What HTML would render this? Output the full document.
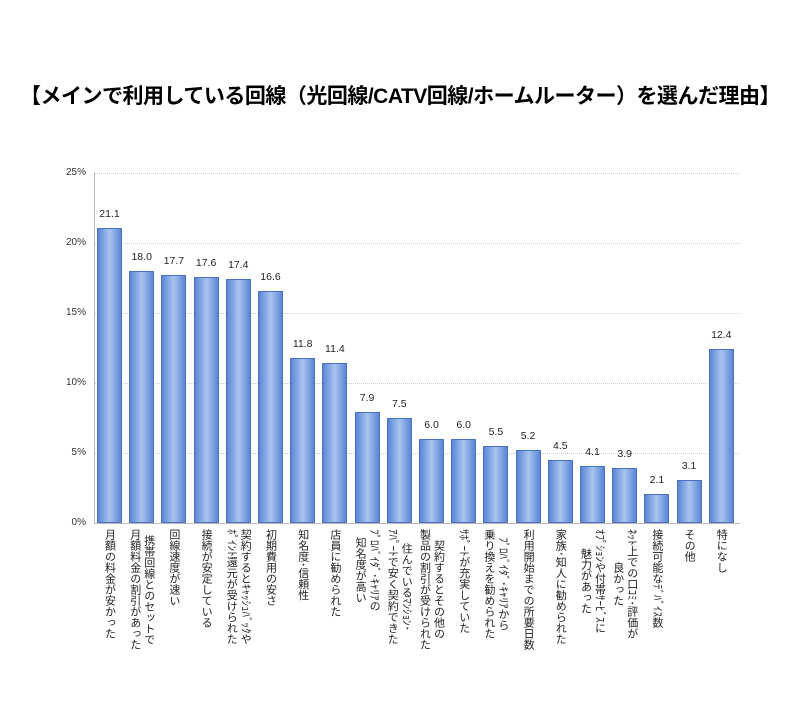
<!DOCTYPE html>
<html><head><meta charset="utf-8"><style>
body{margin:0;width:800px;height:720px;background:#fff;position:relative;overflow:hidden;font-family:"Liberation Sans","Noto Sans CJK JP",sans-serif;}
.t{position:absolute;left:0;width:800px;top:80px;text-align:center;font-size:21px;font-weight:bold;color:#000;letter-spacing:-0.5px}
.yl{position:absolute;left:30px;width:56px;text-align:right;font-size:10px;color:#333}
.g{position:absolute;left:95px;width:645px;border-top:1px dotted #ccc;height:0}
.bar{position:absolute;width:25px;background:linear-gradient(to right,#5b86d6,#a9c4ef 50%,#5b86d6);border:1px solid #4a72c0;box-sizing:border-box}
.v{position:absolute;width:40px;text-align:center;font-size:10.5px;color:#222}
.lb{position:absolute;top:529px;writing-mode:vertical-rl;text-align:center;font-size:11px;line-height:14px;color:#222;white-space:nowrap}
</style></head><body>
<div class="t">【メインで利用している回線（光回線/CATV回線/ホームルーター）を選んだ理由】</div>
<div class="g" style="top:173px"></div><div class="g" style="top:243px"></div><div class="g" style="top:313px"></div><div class="g" style="top:383px"></div><div class="g" style="top:453px"></div>
<div class="yl" style="top:167px">25%</div><div class="yl" style="top:237px">20%</div><div class="yl" style="top:307px">15%</div><div class="yl" style="top:377px">10%</div><div class="yl" style="top:447px">5%</div><div class="yl" style="top:517px">0%</div>
<div style="position:absolute;left:94px;top:173px;width:1px;height:351px;background:#bbb"></div>
<div style="position:absolute;left:94px;top:523px;width:646px;height:1px;background:#bbb"></div>
<div id="c"></div>
<script>
var d=[[21.1,"月額の料金が安かった"],[18.0,"携帯回線とのセットで<br>月額料金の割引があった"],[17.7,"回線速度が速い"],[17.6,"接続が安定している"],[17.4,"契約するとｷｬｯｼｭﾊﾞｯｸや<br>ﾎﾟｲﾝﾄ還元が受けられた"],[16.6,"初期費用の安さ"],[11.8,"知名度･信頼性"],[11.4,"店員に勧められた"],[7.9,"ﾌﾟﾛﾊﾞｲﾀﾞ･ｷｬﾘｱの<br>知名度が高い"],[7.5,"住んでいるﾏﾝｼｮﾝ･<br>ｱﾊﾟｰﾄで安く契約できた"],[6.0,"契約するとその他の<br>製品の割引が受けられた"],[6.0,"ｻﾎﾟｰﾄが充実していた"],[5.5,"ﾌﾟﾛﾊﾞｲﾀﾞ･ｷｬﾘｱから<br>乗り換えを勧められた"],[5.2,"利用開始までの所要日数"],[4.5,"家族･知人に勧められた"],[4.1,"ｵﾌﾟｼｮﾝや付帯ｻｰﾋﾞｽに<br>魅力があった"],[3.9,"ﾈｯﾄ上での口ｺﾐ･評価が<br>良かった"],[2.1,"接続可能なﾃﾞﾊﾞｲｽ数"],[3.1,"その他"],[12.4,"特になし"]];
var h="";
d.forEach(function(e,i){var x=97+i*32.2,ht=e[0]*14,top=523-ht,cx=x+12.5;
h+='<div class="bar" style="left:'+x+'px;top:'+top+'px;height:'+ht+'px"></div>';
h+='<div class="v" style="left:'+(cx-20)+'px;top:'+(top-20)+'px">'+e[0].toFixed(1)+'</div>';
h+='<div class="lb" style="left:'+(cx-(e[1].indexOf("<br>")>0?14:7))+'px">'+e[1]+'</div>';});
document.getElementById("c").innerHTML=h;
</script>
</body></html>
